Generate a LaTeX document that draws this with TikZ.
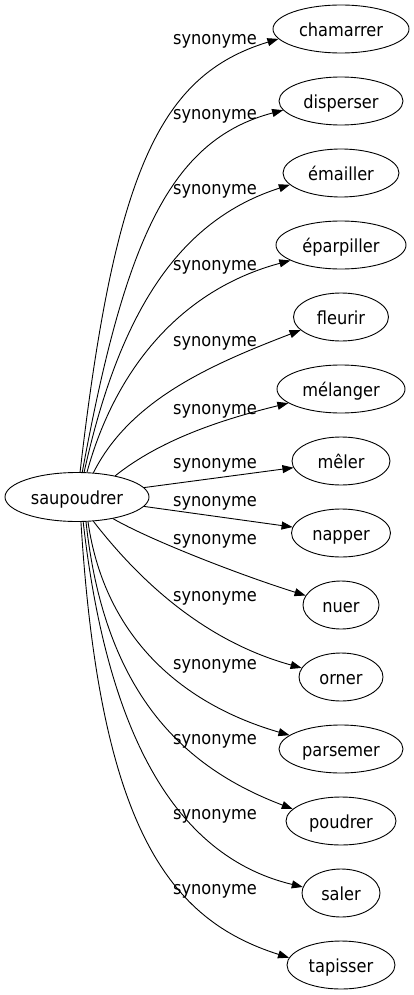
\documentclass[tikz,border=0pt]{standalone}
\usepackage{fontspec}
\setmainfont{DejaVu Sans Condensed}
\usetikzlibrary{arrows.meta,shapes.geometric}
\begin{document}
\begin{tikzpicture}[x=1pt,y=-1pt,
  term/.style={draw, ellipse, line width=0.9pt, minimum height=48pt, inner sep=0pt,
    font=\fontsize{18}{20}\selectfont, text height=15pt, text depth=0pt},
  lab/.style={font=\fontsize{18}{20}\selectfont, inner sep=0pt, text height=10pt, text depth=0pt},
  syn/.style={line width=0.9pt, -{Triangle[length=11pt,width=8pt]}}]
\useasboundingbox (0,0) rectangle (413,995);
\node[term, minimum width=144pt, minimum height=49pt] (src) at (77,497) {saupoudrer};
\node[term, minimum width=136pt] (n1) at (341,29) {chamarrer};
\node[term, minimum width=124pt] (n2) at (341,101) {disperser};
\node[term, minimum width=116pt] (n3) at (341,173) {émailler};
\node[term, minimum width=130pt] (n4) at (341,245) {éparpiller};
\node[term, minimum width=95pt] (n5) at (341,317) {fleurir};
\node[term, minimum width=128pt] (n6) at (341,389) {mélanger};
\node[term, minimum width=98pt] (n7) at (341,461) {mêler};
\node[term, minimum width=99pt] (n8) at (341,533) {napper};
\node[term, minimum width=76pt] (n9) at (341,605) {nuer};
\node[term, minimum width=84pt] (n10) at (341,677) {orner};
\node[term, minimum width=124pt] (n11) at (341,749) {parsemer};
\node[term, minimum width=110pt] (n12) at (341,821) {poudrer};
\node[term, minimum width=78pt] (n13) at (341,893) {saler};
\node[term, minimum width=108pt] (n14) at (341,965) {tapisser};
\node[lab] (l1) at (215,40) {synonyme};
\node[lab] (l2) at (215,115) {synonyme};
\node[lab] (l3) at (215,189) {synonyme};
\node[lab] (l4) at (215,265) {synonyme};
\node[lab] (l5) at (215,341) {synonyme};
\node[lab] (l6) at (215,409) {synonyme};
\node[lab] (l7) at (215,463) {synonyme};
\node[lab] (l8) at (215,501) {synonyme};
\node[lab] (l9) at (215,539) {synonyme};
\node[lab] (l10) at (215,596) {synonyme};
\node[lab] (l11) at (215,664) {synonyme};
\node[lab] (l12) at (215,739) {synonyme};
\node[lab] (l13) at (215,814) {synonyme};
\node[lab] (l14) at (215,889) {synonyme};
\draw[syn] (src.83) .. controls (115,170) and (160,75) .. (n1.189);
\draw[syn] (src.78) .. controls (125,240) and (170,140) .. (n2.189);
\draw[syn] (src.74) .. controls (120,310) and (180,220) .. (n3.193);
\draw[syn] (src.68) .. controls (115,370) and (180,290) .. (n4.197);
\draw[syn] (src.56) .. controls (130,400) and (210,365) .. (n5.198);
\draw[syn] (src.29) .. controls (160,440) and (220,420) .. (n6.195);
\draw[syn] (src.8) -- (n7.188);
\draw[syn] (src.-8) -- (n8.173);
\draw[syn] (src.-31) .. controls (150,540) and (240,575) .. (n9.165);
\draw[syn] (src.-56) .. controls (135,575) and (200,640) .. (n10.167);
\draw[syn] (src.-66) .. controls (105,640) and (185,705) .. (n11.165);
\draw[syn] (src.-70) .. controls (105,700) and (190,770) .. (n12.166);
\draw[syn] (src.-76) .. controls (110,760) and (190,860) .. (n13.171);
\draw[syn] (src.-81) .. controls (100,830) and (170,920) .. (n14.172);
\end{tikzpicture}
\end{document}
